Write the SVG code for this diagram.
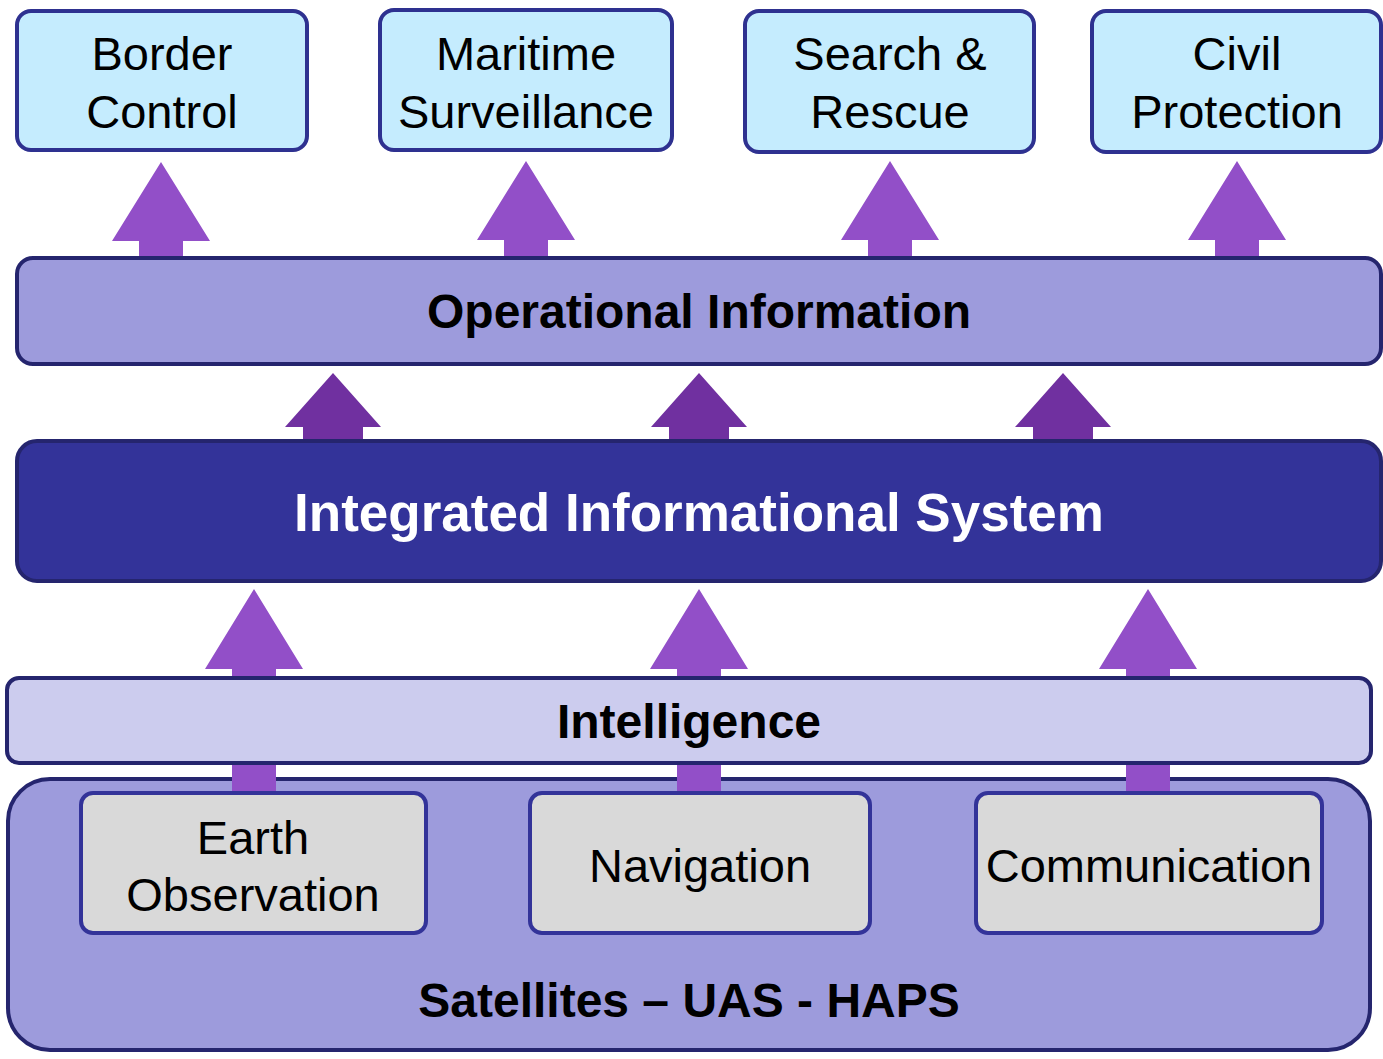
<svg xmlns="http://www.w3.org/2000/svg" width="1383" height="1059" viewBox="0 0 1383 1059">
<style>
.app{fill:#C5ECFE;stroke:#2E3190;stroke-width:4}
.bar{stroke:#25256E;stroke-width:4}
.sub{fill:#D9D9D9;stroke:#333399;stroke-width:4}
.t{font-family:"Liberation Sans",Arial,sans-serif;font-size:47px;fill:#000;text-anchor:middle}
.b{font-family:"Liberation Sans",Arial,sans-serif;font-weight:bold;font-size:48px;fill:#000;text-anchor:middle}
.up1{fill:#924FC8}
.up2{fill:#7030A0}
</style>
<defs>
<path id="arA" d="M0,0 L49,79 L22,79 L22,98 L-22,98 L-22,79 L-49,79 Z"/>
<path id="arB" d="M0,0 L48,54 L30,54 L30,69 L-30,69 L-30,54 L-48,54 Z"/>
<path id="arC" d="M0,0 L49,80 L22,80 L22,204 L-22,204 L-22,80 L-49,80 Z"/>
</defs>
<rect width="1383" height="1059" fill="#fff"/>
<g id="satellites">
<rect x="8" y="779" width="1362" height="271" rx="42" fill="#9D9BDC" class="bar"/>
<text class="b" x="689" y="1017">Satellites – UAS - HAPS</text>
</g>
<g id="connectors">
<use href="#arA" class="up1" x="161" y="162"/>
<use href="#arA" class="up1" x="526" y="161"/>
<use href="#arA" class="up1" x="890" y="161"/>
<use href="#arA" class="up1" x="1237" y="161"/>
<use href="#arB" class="up2" x="333" y="373"/>
<use href="#arB" class="up2" x="699" y="373"/>
<use href="#arB" class="up2" x="1063" y="373"/>
<use href="#arC" class="up1" x="254" y="589"/>
<use href="#arC" class="up1" x="699" y="589"/>
<use href="#arC" class="up1" x="1148" y="589"/>
</g>
<g id="border-control">
<rect class="app" x="17" y="11" width="290" height="139" rx="14"/>
<text class="t" x="162" y="70">Border</text>
<text class="t" x="162" y="128">Control</text>
</g>
<g id="maritime-surveillance">
<rect class="app" x="380" y="10" width="292" height="140" rx="14"/>
<text class="t" x="526" y="70">Maritime</text>
<text class="t" x="526" y="128">Surveillance</text>
</g>
<g id="search-rescue">
<rect class="app" x="745" y="11" width="289" height="141" rx="14"/>
<text class="t" x="890" y="70">Search &amp;</text>
<text class="t" x="890" y="128">Rescue</text>
</g>
<g id="civil-protection">
<rect class="app" x="1092" y="11" width="289" height="141" rx="14"/>
<text class="t" x="1237" y="70">Civil</text>
<text class="t" x="1237" y="128">Protection</text>
</g>
<g id="operational-information">
<rect x="17" y="258" width="1364" height="106" rx="16" fill="#9D9BDC" class="bar"/>
<text class="b" x="699" y="328">Operational Information</text>
</g>
<g id="integrated-informational-system">
<rect x="17" y="441" width="1364" height="140" rx="20" fill="#333399" class="bar"/>
<text class="b" x="699" y="531" style="font-size:53px;fill:#fff">Integrated Informational System</text>
</g>
<g id="intelligence">
<rect x="7" y="678" width="1364" height="85" rx="12" fill="#CCCCEE" class="bar"/>
<text class="b" x="689" y="738">Intelligence</text>
</g>
<g id="earth-observation">
<rect class="sub" x="81" y="793" width="345" height="140" rx="12"/>
<text class="t" x="253" y="854">Earth</text>
<text class="t" x="253" y="911">Observation</text>
</g>
<g id="navigation">
<rect class="sub" x="530" y="793" width="340" height="140" rx="12"/>
<text class="t" x="700" y="882">Navigation</text>
</g>
<g id="communication">
<rect class="sub" x="976" y="793" width="346" height="140" rx="12"/>
<text class="t" x="1149" y="882">Communication</text>
</g>
</svg>
